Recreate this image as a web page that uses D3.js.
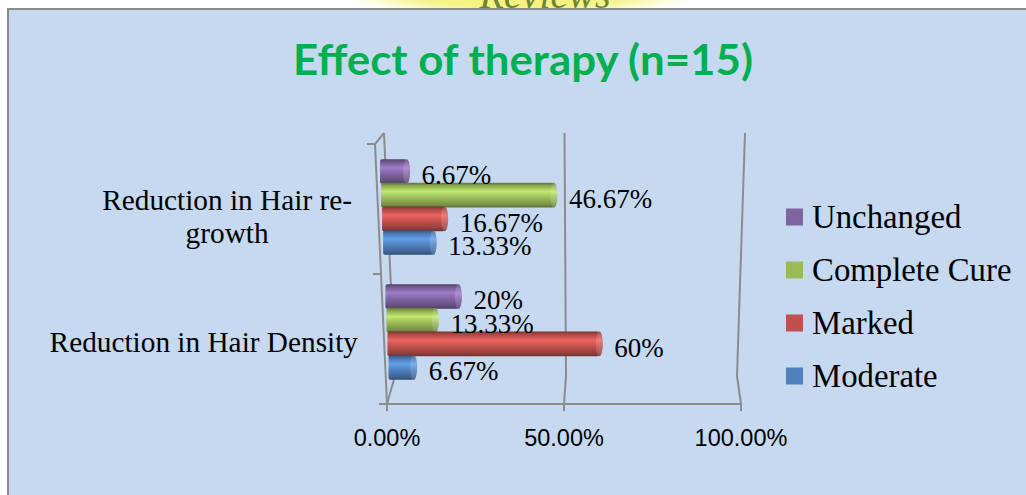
<!DOCTYPE html>
<html>
<head>
<meta charset="utf-8">
<script src="https://d3js.org/d3.v7.min.js"></script>
<style>
  html, body { margin: 0; padding: 0; background: #ffffff; }
  svg { display: block; }
</style>
</head>
<body>
<div id="chart"></div>
<script>
// chart values
const categories = ["Reduction in Hair re-growth", "Reduction in Hair Density"];
const categoryLines = [["Reduction in Hair re-", "growth"], ["Reduction in Hair Density"]];
const seriesNames = ["Unchanged", "Complete Cure", "Marked", "Moderate"];
const unchanged = [6.67, 20];
const completeCure = [46.67, 13.33];
const marked = [16.67, 60];
const moderate = [13.33, 6.67];
const xTicks = [0, 50, 100];
const seriesColors = ["#8064A2", "#9BBB59", "#C0504D", "#4F81BD"];

const seriesValues = [unchanged, completeCure, marked, moderate];

const width = 1026;
const height = 495;

const svg = d3.select("#chart")
    .append("svg")
    .attr("width", width)
    .attr("height", height);

const defs = svg.append("defs");

// yellow watermark glow at the top of the page
const glow = defs.append("radialGradient").attr("id", "glow");
glow.append("stop").attr("offset", "0%").attr("stop-color", "#f3ef5c");
glow.append("stop").attr("offset", "70%").attr("stop-color", "#f6f38a");
glow.append("stop").attr("offset", "100%").attr("stop-color", "#ffffff");

defs.append("clipPath").attr("id", "topStrip")
    .append("rect").attr("x", 0).attr("y", 0).attr("width", width).attr("height", 9);

const strip = svg.append("g").attr("clip-path", "url(#topStrip)");
strip.append("ellipse")
    .attr("cx", 520).attr("cy", -20)
    .attr("rx", 200).attr("ry", 40)
    .attr("fill", "url(#glow)");
strip.append("text")
    .attr("x", 545).attr("y", 8)
    .attr("text-anchor", "middle")
    .attr("font-family", "Liberation Serif")
    .attr("font-size", 40)
    .attr("font-style", "italic")
    .attr("fill", "#4f6a22")
    .attr("opacity", 0.8)
    .text("Reviews");

// chart area
svg.append("rect")
    .attr("x", 8).attr("y", 9)
    .attr("width", 1030).attr("height", 500)
    .attr("fill", "#C6D9F1")
    .attr("stroke", "#8a8a8a")
    .attr("stroke-width", 2);

svg.append("text")
    .attr("x", 523)
    .attr("y", 75)
    .attr("text-anchor", "middle")
    .attr("font-family", "Lato")
    .attr("font-weight", "bold")
    .attr("font-size", 42)
    .attr("fill", "#00B050")
    .attr("textLength", 460)
    .attr("lengthAdjust", "spacingAndGlyphs")
    .text("Effect of therapy (n=15)");

// scales: the floor and the back wall of the 3-D plot
const frontX = d3.scaleLinear().domain([0, 100]).range([387, 741]);
const backTop = 133, backBottom = 376, frontY = 404;
function backX(y) {
    const t = (y - backTop) / (backBottom - backTop);
    return d3.scaleLinear().domain([0, 100]).range([384 + t * 11, 745 - t * 8]);
}
const leftEdge = d3.scaleLinear().domain([144, frontY]).range([375, 387]);

const yBand = d3.scaleBand().domain(categories).range([144, 394]);
const yInner = d3.scaleBand().domain(seriesNames).range([0, yBand.bandwidth()]).paddingOuter(0.64);
const frontBand = d3.scaleBand().domain(categories).range([144, frontY]);

// bar origin and length shift with depth
const startAt = d3.scaleLinear().domain([205, 332]).range([383.5, 389]);
const lengthAt = d3.scaleLinear().domain([205, 332]).range([365, 351]);
function barScale(y) {
    const a = startAt(y);
    return d3.scaleLinear().domain([0, 100]).range([a, a + lengthAt(y)]);
}

const frame = svg.append("g")
    .attr("fill", "none")
    .attr("stroke", "#8c8c8c")
    .attr("stroke-width", 2);

// gridlines: back wall down to floor
xTicks.forEach(v => {
    frame.append("path")
        .attr("d", d3.line()([
            [backX(backTop)(v), backTop],
            [backX(backBottom)(v), backBottom],
            [frontX(v), frontY]
        ]));
});

// left wall edge
frame.append("path")
    .attr("d", d3.line()([
        [backX(backTop)(0), backTop],
        [leftEdge(144), 144],
        [leftEdge(frontY), frontY],
        [frontX(100), frontY]
    ]));

// category ticks
const catTicks = [frontBand.range()[0]].concat(categories.map(c => frontBand(c) + frontBand.bandwidth()));
catTicks.forEach(y => {
    frame.append("line")
        .attr("x1", leftEdge(y) - 8).attr("x2", leftEdge(y))
        .attr("y1", y).attr("y2", y);
});

// value ticks
xTicks.forEach(v => {
    frame.append("line")
        .attr("x1", frontX(v)).attr("x2", frontX(v))
        .attr("y1", frontY).attr("y2", frontY + 7);
});

svg.append("g")
    .selectAll("text")
    .data(xTicks)
    .enter().append("text")
    .attr("x", d => frontX(d))
    .attr("y", 446)
    .attr("text-anchor", "middle")
    .attr("font-family", "Liberation Sans")
    .attr("font-size", 23.5)
    .attr("fill", "#000")
    .text(d => d3.format(".2f")(d) + "%");

// cylinder gradients
seriesColors.forEach((col, i) => {
    const c = d3.color(col);
    const g = defs.append("linearGradient")
        .attr("id", "cyl" + i)
        .attr("x1", 0).attr("y1", 0).attr("x2", 0).attr("y2", 1);
    [[0, c.darker(1.3)], [0.12, c.darker(0.3)], [0.35, c.brighter(0.6)],
     [0.6, c], [0.88, c.darker(0.7)], [1, c.darker(1.5)]].forEach(s => {
        g.append("stop").attr("offset", s[0]).attr("stop-color", s[1].formatHex());
    });
});

const bars = svg.append("g");
const labels = svg.append("g");
const fmt = v => (Math.round(v * 100) / 100) + "%";

categories.forEach((cat, ci) => {
    seriesNames.forEach((name, si) => {
        const v = seriesValues[si][ci];
        const y0 = yBand(cat) + yInner(name);
        const h = yInner.bandwidth();
        const cy = y0 + h / 2;
        const xs = barScale(cy);
        const x0 = xs(0) - 2;
        const x1 = xs(v);

        bars.append("rect")
            .attr("x", x0).attr("y", y0)
            .attr("width", x1 - x0).attr("height", h + 1)
            .attr("rx", 2)
            .attr("fill", "url(#cyl" + si + ")");
        bars.append("ellipse")
            .attr("cx", x1).attr("cy", cy + 0.5)
            .attr("rx", 3.5).attr("ry", (h + 1) / 2)
            .attr("fill", "url(#cyl" + si + ")");
        bars.append("ellipse")
            .attr("cx", x1).attr("cy", cy + 0.5)
            .attr("rx", 3.5).attr("ry", (h + 1) / 2)
            .attr("fill", "#ffffff")
            .attr("opacity", 0.15);

        labels.append("text")
            .attr("x", x1 + 15)
            .attr("y", cy + 4)
            .attr("dy", "0.35em")
            .attr("font-family", "Liberation Serif")
            .attr("font-size", 27)
            .attr("fill", "#000")
            .text(fmt(v));
    });
});

// category labels, wrapped lines centred in a right-aligned block
const catG = svg.append("g")
    .attr("font-family", "Liberation Serif")
    .attr("font-size", 29.3)
    .attr("fill", "#000");
const catRight = [352, 358];
categories.forEach((cat, ci) => {
    const lines = categoryLines[ci];
    const cy = yBand(cat) + yBand.bandwidth() / 2 + 10;
    const texts = lines.map((ln, li) => catG.append("text")
        .attr("y", cy + (li - (lines.length - 1) / 2) * 33)
        .attr("dy", "0.35em")
        .attr("text-anchor", "middle")
        .text(ln));
    const maxW = d3.max(texts, t => t.node().getComputedTextLength());
    texts.forEach(t => t.attr("x", catRight[ci] - maxW / 2));
});

// legend
const legend = svg.append("g").attr("transform", "translate(786, 217)");
seriesNames.forEach((name, i) => {
    const row = legend.append("g").attr("transform", `translate(0, ${i * 53})`);
    row.append("rect")
        .attr("x", 0).attr("y", -8.5)
        .attr("width", 17).attr("height", 17)
        .attr("fill", seriesColors[i]);
    row.append("text")
        .attr("x", 26).attr("y", 10.5)
        .attr("font-family", "Liberation Serif")
        .attr("font-size", 32.8)
        .attr("fill", "#000")
        .text(name);
});
</script>
</body>
</html>
